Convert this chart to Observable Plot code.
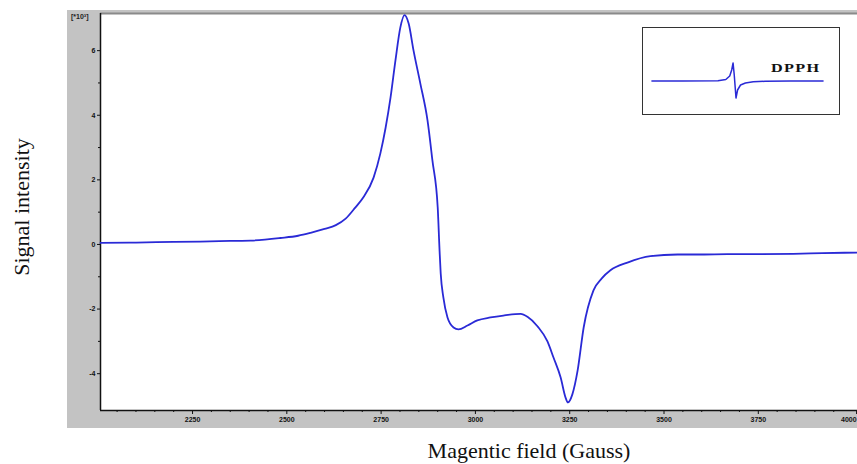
<!DOCTYPE html>
<html><head><meta charset="utf-8">
<script src="https://cdn.jsdelivr.net/npm/d3@7"></script>
<script src="https://cdn.jsdelivr.net/npm/@observablehq/plot@0.6"></script>
<style>
body{margin:0;background:#fff;width:857px;height:464px;overflow:hidden;position:relative;font-family:"Liberation Serif","Times New Roman",serif;}
#chart{position:absolute;left:67px;top:10px;}
#ytitle{position:absolute;left:22px;top:207px;transform:translate(-50%,-50%) rotate(-90deg);font-size:22px;white-space:nowrap;color:#111;}
#xtitle{position:absolute;left:529px;top:451px;transform:translate(-50%,-50%);font-size:22px;white-space:nowrap;color:#111;}
#unit{position:absolute;left:71px;top:13px;font:bold 7px Arial,"Liberation Sans",sans-serif;color:#222;}
#inset{position:absolute;left:642px;top:27px;width:196px;height:86px;border:1.5px solid #333;background:#fff;}
#dpph{position:absolute;left:128px;top:33px;font:bold 12px "Liberation Serif",serif;letter-spacing:1px;color:#111;transform:scaleX(1.35);transform-origin:left center;}
</style>
</head><body>
<div id="chart"></div>
<div id="unit">[*10³]</div>
<div id="ytitle">Signal intensity</div>
<div id="xtitle">Magentic field (Gauss)</div>
<div id="inset"><div id="insetPlot"></div><span id="dpph">DPPH</span></div>
<script>
// Main EPR spectrum (field in Gauss, intensity in 10^3 units)
const field = [2006,2100,2200,2271,2350,2404,2483,2530,2563,2600,2630,2656,2682,2703,2730,2748,2762,2775,2788,2801,2812,2823,2836,2854,2873,2886,2900,2905,2908,2915,2926,2942,2955,2979,3005,3040,3074,3120,3138,3165,3191,3207,3226,3239,3245,3257,3271,3287,3313,3335,3358,3403,3464,3536,3600,3668,3750,3843,3920,4013];
const intensity = [0.05,0.06,0.08,0.09,0.11,0.12,0.2,0.27,0.36,0.48,0.6,0.8,1.15,1.46,2.07,2.82,3.62,4.55,5.7,6.72,7.1,6.84,6.0,4.98,3.84,2.6,1.15,-0.2,-0.9,-1.64,-2.26,-2.57,-2.63,-2.51,-2.35,-2.26,-2.2,-2.15,-2.24,-2.54,-3.0,-3.5,-4.12,-4.74,-4.89,-4.64,-3.9,-2.57,-1.42,-1.05,-0.8,-0.56,-0.36,-0.31,-0.31,-0.3,-0.3,-0.29,-0.27,-0.25];
const xMajor = [2250,2500,2750,3000,3250,3500,3750];
const xLast = [4000];
const xMinor = d3.range(2050,4001,50).filter(v => v % 250 !== 0);
const yMajor = [-4,-2,0,2,4,6];
const yMinor = [-3,-1,1,3,5];
const xDomain = [2006,4013];
const yDomain = [-5.14,7.15];

// DPPH reference inset
const insetX = [4.3,20,38,42,44,45,45.7,46.3,47.2,48,49.5,52,56,62,75,91.6];
const insetY = [0,0,0.3,1.5,5,11,18,6,-17,-9,-4,-2,-0.8,-0.3,0,0];

const data = field.map((f,i) => ({field:f, intensity:intensity[i]}));
const fmt = d => String(d);
const main = Plot.plot({
  width:790, height:418,
  marginLeft:33, marginRight:0, marginTop:3, marginBottom:18,
  style:{background:"#c3c3c3", color:"#111", fontFamily:"Arial, 'Liberation Sans', sans-serif"},
  x:{domain:xDomain},
  y:{domain:yDomain},
  marks:[
    Plot.frame({fill:"white", stroke:null}),
    Plot.axisX({ticks:xMinor, tickSize:2, tickFormat:() => "", label:null}),
    Plot.axisX({ticks:xMajor, tickSize:4, tickPadding:3, fontSize:7, fontWeight:"bold", tickFormat:fmt, label:null}),
    Plot.axisX({ticks:xLast, tickSize:4, tickPadding:3, fontSize:7, fontWeight:"bold", tickFormat:fmt, label:null, textAnchor:"end", dx:4}),
    Plot.axisY({ticks:yMinor, tickSize:2, tickFormat:() => "", label:null}),
    Plot.axisY({ticks:yMajor, tickSize:3, tickPadding:2, fontSize:7, fontWeight:"bold", tickFormat:fmt, label:null}),
    Plot.ruleY([yDomain[1]], {stroke:"#8a8a8a", strokeWidth:2}),
    Plot.ruleX([xDomain[0]], {stroke:"#111", strokeWidth:1.5}),
    Plot.ruleY([yDomain[0]], {stroke:"#111", strokeWidth:1.5}),
    Plot.line(data, {x:"field", y:"intensity", stroke:"#2a2ad6", strokeWidth:1.8, curve:"monotone-x"})
  ]
});
document.getElementById("chart").appendChild(main);

const insetData = insetX.map((x,i) => ({x, y:insetY[i]}));
const inset = Plot.plot({
  width:196, height:86, margin:0,
  x:{domain:[0,100], axis:null},
  y:{domain:[-33.5,52.5], axis:null},
  marks:[
    Plot.line(insetData, {x:"x", y:"y", stroke:"#2a2ad6", strokeWidth:1.5, curve:"linear"})
  ]
});
document.getElementById("insetPlot").appendChild(inset);
</script>
</body></html>
